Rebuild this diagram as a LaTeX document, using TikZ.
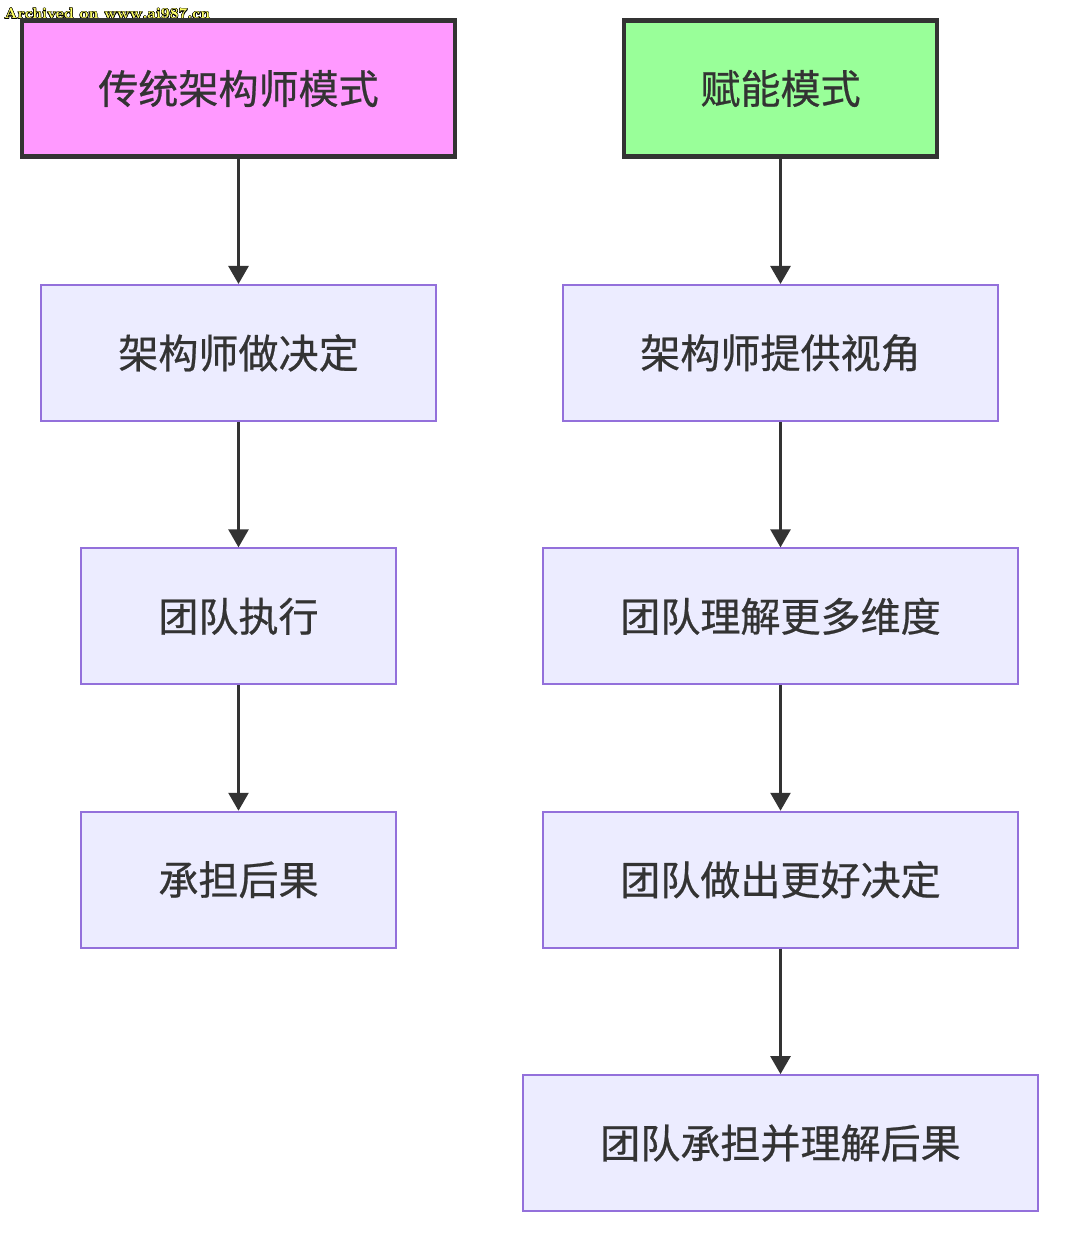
\documentclass[tikz,border=0pt]{standalone}
\usepackage{fontspec}
\newfontfamily\cjk[FakeBold=0.6]{Noto Sans CJK SC}
\usepackage{contour}
\usetikzlibrary{arrows.meta, positioning}

\definecolor{darkline}{HTML}{333333}
\definecolor{modepink}{HTML}{FF99FF}
\definecolor{modegreen}{HTML}{99FF99}
\definecolor{stepfill}{HTML}{ECECFF}
\definecolor{stepline}{HTML}{9370DB}
\definecolor{markyellow}{HTML}{FFFF66}

\begin{document}
\begin{tikzpicture}[
    x=0.02cm, y=-0.02cm,
    node distance=2.51cm,
    flow/.style={
        draw=darkline,
        line width=1.5pt,
        -{Triangle[width=0.4cm, length=0.36cm]},
    },
    mode/.style={
        rectangle,
        draw=darkline,
        line width=2.3pt,
        minimum height=2.72cm,
        inner xsep=1.52cm,
        text=darkline,
        font=\cjk\fontsize{22.8}{27}\selectfont,
    },
    stepbox/.style={
        rectangle,
        draw=stepline,
        fill=stepfill,
        line width=1.1pt,
        minimum height=2.72cm,
        inner xsep=1.55cm,
        text=darkline,
        font=\cjk\fontsize{22.8}{27}\selectfont,
    }
]
    \useasboundingbox[fill=white] (0,0) rectangle (1080,1256);

    % Watermark
    \node[anchor=west, inner sep=0pt, font=\bfseries\fontsize{8.5}{10}\selectfont] (mark) at (4,14)
        {\contour{black}{\textcolor{markyellow}{Archived on www.ai987.cn}}};

    % Traditional mode
    \node[mode, fill=modepink] (trad0) at (238.5,88.5) {传统架构师模式};
    \node[stepbox, below=of trad0] (trad1) {架构师做决定};
    \node[stepbox, below=of trad1] (trad2) {团队执行};
    \node[stepbox, below=of trad2] (trad3) {承担后果};

    % Enabling mode
    \node[mode, fill=modegreen] (enab0) at (780.5,88.5) {赋能模式};
    \node[stepbox, below=of enab0] (enab1) {架构师提供视角};
    \node[stepbox, below=of enab1] (enab2) {团队理解更多维度};
    \node[stepbox, below=of enab2] (enab3) {团队做出更好决定};
    \node[stepbox, below=of enab3] (enab4) {团队承担并理解后果};

    % Arrows
    \draw[flow] (trad0) -- (trad1);
    \draw[flow] (trad1) -- (trad2);
    \draw[flow] (trad2) -- (trad3);
    \draw[flow] (enab0) -- (enab1);
    \draw[flow] (enab1) -- (enab2);
    \draw[flow] (enab2) -- (enab3);
    \draw[flow] (enab3) -- (enab4);
\end{tikzpicture}
\end{document}
